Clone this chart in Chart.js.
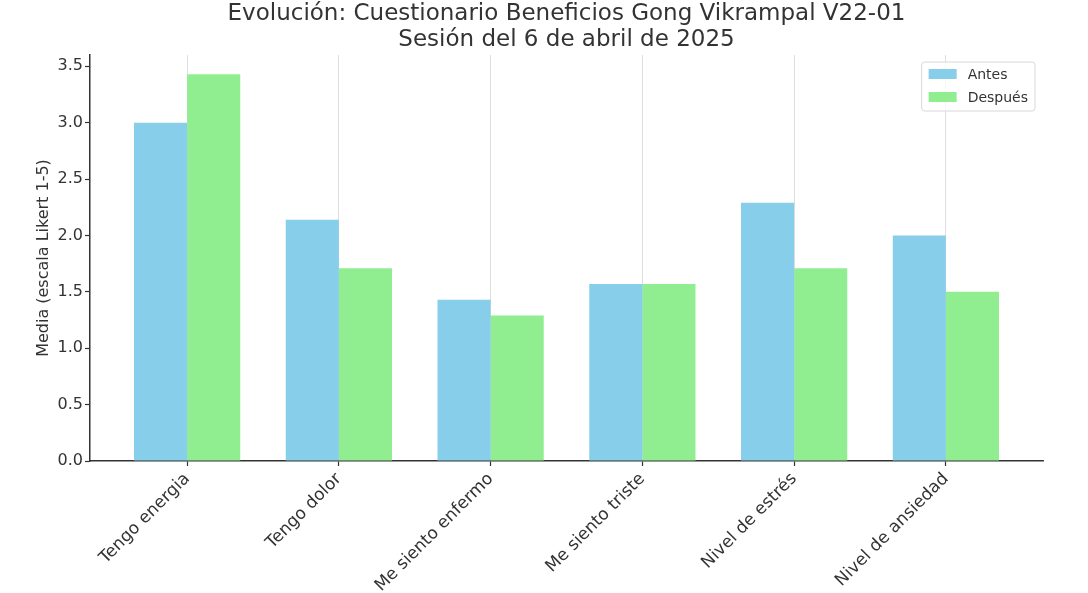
<!DOCTYPE html>
<html>
<head>
<meta charset="utf-8">
<script src="https://cdn.jsdelivr.net/npm/chart.js@4"></script>
<style>
  html, body { margin: 0; padding: 0; background: #fff; }
  #wrap { width: 1088px; height: 593px; }
</style>
</head>
<body>
<div id="wrap"><canvas id="benefChart"></canvas></div>
<script>
const categories = ["Tengo energia", "Tengo dolor", "Me siento enfermo", "Me siento triste", "Nivel de estrés", "Nivel de ansiedad"];
const antes = [3.0, 2.14, 1.43, 1.57, 2.29, 2.0];
const despues = [3.43, 1.71, 1.29, 1.57, 1.71, 1.5];
const yTicks = [0, 0.5, 1.0, 1.5, 2.0, 2.5, 3.0, 3.5];
const titleLines = ["Evolución: Cuestionario Beneficios Gong Vikrampal V22-01", "Sesión del 6 de abril de 2025"];

const FONT = "'DejaVu Sans', sans-serif";
const INK = '#333333';

// title centred over the plot area, like matplotlib does
const titlePlugin = {
  id: 'plotTitle',
  afterDraw(chart) {
    const ctx = chart.ctx;
    const a = chart.chartArea;
    const cx = (a.left + a.right) / 2;
    ctx.save();
    ctx.fillStyle = INK;
    ctx.font = '23px ' + FONT;
    ctx.textAlign = 'center';
    ctx.textBaseline = 'middle';
    titleLines.forEach((t, i) => ctx.fillText(t, cx, 14 + i * 26));
    ctx.restore();
  }
};

// framed legend in the upper right corner of the plot
const boxLegend = {
  id: 'boxLegend',
  afterDraw(chart) {
    const ctx = chart.ctx;
    const a = chart.chartArea;
    const ds = chart.data.datasets;
    ctx.save();
    ctx.font = '14px ' + FONT;
    let tw = 0;
    ds.forEach(d => { tw = Math.max(tw, ctx.measureText(d.label).width); });
    const w = 7 + 28 + 11 + tw + 7;
    const h = 49;
    const x = a.right - 8 - w;
    const y = a.top + 7;
    ctx.fillStyle = 'rgba(255,255,255,0.8)';
    ctx.strokeStyle = '#d8d8d8';
    ctx.lineWidth = 1;
    ctx.beginPath();
    ctx.roundRect(x, y, w, h, 3);
    ctx.fill();
    ctx.stroke();
    ds.forEach((d, i) => {
      const cy = y + 12 + i * 23;
      ctx.fillStyle = d.backgroundColor;
      ctx.fillRect(x + 7, cy - 5, 28, 10);
      ctx.fillStyle = INK;
      ctx.textBaseline = 'middle';
      ctx.textAlign = 'left';
      ctx.fillText(d.label, x + 46, cy + 1);
    });
    ctx.restore();
  }
};

new Chart(document.getElementById('benefChart').getContext('2d'), {
  type: 'bar',
  data: {
    datasets: [{
      label: 'Antes',
      data: antes.map((v, i) => ({ x: i, y: v })),
      backgroundColor: '#87CEEB',
      categoryPercentage: 0.7,
      barPercentage: 1.0
    }, {
      label: 'Después',
      data: despues.map((v, i) => ({ x: i, y: v })),
      backgroundColor: '#90EE90',
      categoryPercentage: 0.7,
      barPercentage: 1.0
    }]
  },
  options: {
    responsive: true,
    maintainAspectRatio: false,
    animation: false,
    layout: { padding: { top: 55, right: 45, left: 0, bottom: 0 } },
    plugins: {
      legend: { display: false },
      title: { display: false },
      tooltip: { enabled: false }
    },
    scales: {
      x: {
        type: 'linear',
        min: -0.64,
        max: 5.64,
        offset: false,
        afterBuildTicks: s => { s.ticks = categories.map((c, i) => ({ value: i })); },
        afterFit: s => { s.height = 132; },
        ticks: {
          autoSkip: false,
          minRotation: 45,
          maxRotation: 45,
          padding: 3,
          color: INK,
          font: { family: FONT, size: 17 },
          callback: v => categories[v]
        },
        grid: {
          offset: false,
          color: '#d6d6d6',
          lineWidth: 0.8,
          borderDash: [4, 2],
          tickColor: INK,
          tickLength: 5,
          tickBorderDash: [],
          tickWidth: 1.2
        },
        border: { display: true, color: INK, width: 1.5 }
      },
      y: {
        min: 0,
        max: 3.6,
        afterBuildTicks: s => { s.ticks = yTicks.map(v => ({ value: v })); },
        afterFit: s => { s.width = 90; },
        ticks: {
          padding: 2,
          color: INK,
          font: { family: FONT, size: 16 },
          callback: v => v.toFixed(1)
        },
        grid: {
          drawOnChartArea: false,
          tickColor: INK,
          tickLength: 5,
          tickWidth: 1.2
        },
        border: { display: true, color: INK, width: 1.5 },
        title: {
          display: true,
          text: 'Media (escala Likert 1-5)',
          color: INK,
          font: { family: FONT, size: 16 },
          padding: { top: 34, bottom: 0 }
        }
      }
    }
  },
  plugins: [titlePlugin, boxLegend]
});
</script>
</body>
</html>
